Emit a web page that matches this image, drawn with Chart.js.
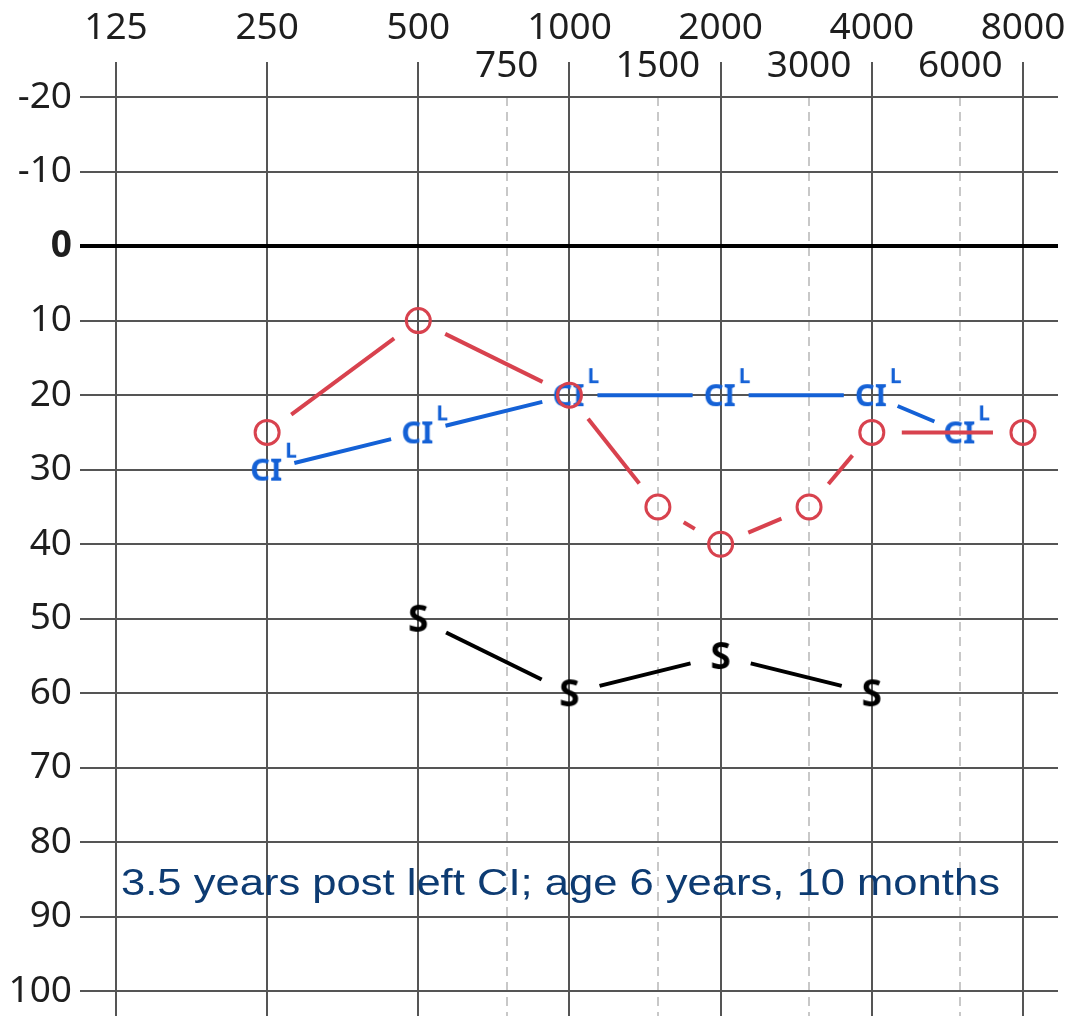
<!DOCTYPE html>
<html>
<head>
<meta charset="utf-8">
<script src="https://cdn.jsdelivr.net/npm/chart.js@4/dist/chart.umd.min.js"></script>
<style>
  html, body { margin: 0; padding: 0; background: #fff; }
  canvas { display: block; }
</style>
</head>
<body>
<canvas id="audiogram" width="1072" height="1016"></canvas>
<script>
// frequencies on the top axis (Hz)
const majorFreqs = [125, 250, 500, 1000, 2000, 4000, 8000];
const minorFreqs = [750, 1500, 3000, 6000];
const dbTicks = [-20, -10, 0, 10, 20, 30, 40, 50, 60, 70, 80, 90, 100];

// right ear, air conduction (O)
const airFreqs = [250, 500, 1000, 1500, 2000, 3000, 4000, 8000];
const airRight = [25, 10, 20, 35, 40, 35, 25, 25];

// left cochlear implant, aided (CI L)
const ciFreqs = [250, 500, 1000, 2000, 4000, 6000];
const ciLeft = [30, 25, 20, 20, 20, 25];

// sound field (S)
const sfFreqs = [500, 1000, 2000, 4000];
const sfLevels = [50, 60, 55, 60];

const noteText = '3.5 years post left CI; age 6 years, 10 months';

const RED = '#d8424e';
const BLUE = '#1461d6';
const GRID = '#555555';

const allFreqs = [...majorFreqs, ...minorFreqs].sort((a, b) => a - b);
const toPoints = (xs, ys) => xs.map((f, i) => ({ x: f, y: ys[i] }));

// marker glyphs
const ciMarker = (() => {
    const c = document.createElement('canvas');
    c.width = 80; c.height = 60;
    const g = c.getContext('2d');
    g.fillStyle = BLUE;
    g.textAlign = 'center';
    g.font = 'bold 31px "Noto Sans"';
    g.fillText('CI', 39, 41);
    g.textAlign = 'left';
    g.font = 'bold 21px "Noto Sans"';
    g.fillText('L', 58, 18);
    return c;
})();

const sMarker = (() => {
    const c = document.createElement('canvas');
    c.width = 40; c.height = 44;
    const g = c.getContext('2d');
    g.fillStyle = '#000';
    g.textAlign = 'center';
    g.font = 'bold 37px "Noto Sans"';
    g.fillText('S', 20, 35);
    return c;
})();

// connecting lines that stop short of each marker
const gapLines = {
    id: 'gapLines',
    afterDatasetsDraw(chart) {
        const ctx = chart.ctx;
        chart.data.datasets.forEach((ds, i) => {
            const meta = chart.getDatasetMeta(i);
            if (!ds.gap || meta.hidden) return;
            ctx.save();
            ctx.strokeStyle = ds.lineColor;
            ctx.lineWidth = ds.lineWidth;
            for (let k = 1; k < meta.data.length; k++) {
                const a = meta.data[k - 1], b = meta.data[k];
                const dx = b.x - a.x, dy = b.y - a.y;
                const len = Math.hypot(dx, dy);
                if (len <= 2 * ds.gap) continue;
                const ux = dx / len, uy = dy / len;
                ctx.beginPath();
                ctx.moveTo(a.x + ux * ds.gap, a.y + uy * ds.gap);
                ctx.lineTo(b.x - ux * ds.gap, b.y - uy * ds.gap);
                ctx.stroke();
            }
            ctx.restore();
        });
    }
};

const note = {
    id: 'note',
    afterDraw(chart) {
        const ctx = chart.ctx;
        const x = chart.chartArea.left + 41;
        const y = chart.scales.y.getPixelForValue(87);
        ctx.save();
        ctx.font = '36px "Liberation Sans", Arial, sans-serif';
        ctx.fillStyle = '#0d3b72';
        ctx.textBaseline = 'alphabetic';
        ctx.translate(x, y);
        ctx.scale(1.21, 1);
        ctx.fillText(noteText, 0, 0);
        ctx.restore();
    }
};

const ctx = document.getElementById('audiogram').getContext('2d');
const chart = new Chart(ctx, {
    type: 'line',
    data: {
        datasets: [{
            label: 'Right air',
            data: toPoints(airFreqs, airRight),
            showLine: false,
            pointStyle: 'circle',
            pointRadius: 12,
            pointBorderWidth: 3,
            pointBorderColor: RED,
            pointBackgroundColor: 'rgba(0,0,0,0)',
            gap: 30,
            lineColor: RED,
            lineWidth: 4
        }, {
            label: 'Left CI',
            data: toPoints(ciFreqs, ciLeft),
            showLine: false,
            pointStyle: ciMarker,
            gap: 28,
            lineColor: BLUE,
            lineWidth: 4
        }, {
            label: 'Sound field',
            data: toPoints(sfFreqs, sfLevels),
            showLine: false,
            pointStyle: sMarker,
            gap: 31,
            lineColor: '#000',
            lineWidth: 4
        }]
    },
    options: {
        responsive: false,
        devicePixelRatio: 1,
        animation: false,
        layout: { autoPadding: false, padding: { top: 0, right: 14, bottom: 0, left: 0 } },
        scales: {
            x: {
                type: 'logarithmic',
                position: 'top',
                min: 106,
                max: 9394,
                afterBuildTicks: (axis) => {
                    axis.ticks = allFreqs.map(v => ({ value: v }));
                },
                afterFit: (axis) => {
                    axis.height = 97;
                    axis.paddingLeft = 0;
                    axis.paddingRight = 0;
                },
                ticks: {
                    autoSkip: false,
                    maxRotation: 0,
                    padding: -24,
                    color: '#1e1e1e',
                    font: { family: '"Noto Sans"', size: 37, lineHeight: 1.03 },
                    callback: (value) => minorFreqs.includes(value) ? ['', String(value)] : [String(value), '']
                },
                grid: {
                    color: (c) => minorFreqs.includes(c.tick && c.tick.value) ? 'rgba(0,0,0,0)' : GRID,
                    tickColor: (c) => minorFreqs.includes(c.tick && c.tick.value) ? 'rgba(0,0,0,0)' : GRID,
                    lineWidth: 2,
                    tickWidth: 2,
                    tickLength: 35
                },
                border: { display: false }
            },
            x2: {
                type: 'logarithmic',
                position: 'top',
                min: 106,
                max: 9394,
                afterBuildTicks: (axis) => {
                    axis.ticks = minorFreqs.map(v => ({ value: v }));
                },
                afterFit: (axis) => {
                    axis.height = 0;
                    axis.paddingLeft = 0;
                    axis.paddingRight = 0;
                },
                ticks: { display: false },
                grid: {
                    color: '#c8c8c8',
                    lineWidth: 2,
                    drawTicks: false
                },
                border: { display: false, dash: [9, 6] }
            },
            y: {
                reverse: true,
                min: -20,
                max: 103.3,
                afterBuildTicks: (axis) => {
                    axis.ticks = dbTicks.map(v => ({ value: v }));
                },
                afterFit: (axis) => {
                    axis.width = 80;
                    axis.paddingTop = 0;
                    axis.paddingBottom = 0;
                },
                ticks: {
                    padding: 8,
                    color: '#1e1e1e',
                    font: (c) => ({
                        family: '"Noto Sans"',
                        size: 37,
                        weight: c.tick && c.tick.value === 0 ? 'bold' : 'normal'
                    }),
                    callback: (value) => String(value)
                },
                grid: {
                    color: (c) => c.tick && c.tick.value === 0 ? '#000' : GRID,
                    lineWidth: (c) => c.tick && c.tick.value === 0 ? 4 : 2,
                    drawTicks: false
                },
                border: { display: false }
            }
        },
        plugins: {
            legend: { display: false },
            tooltip: { enabled: false }
        }
    },
    plugins: [gapLines, note]
});
</script>
</body>
</html>
